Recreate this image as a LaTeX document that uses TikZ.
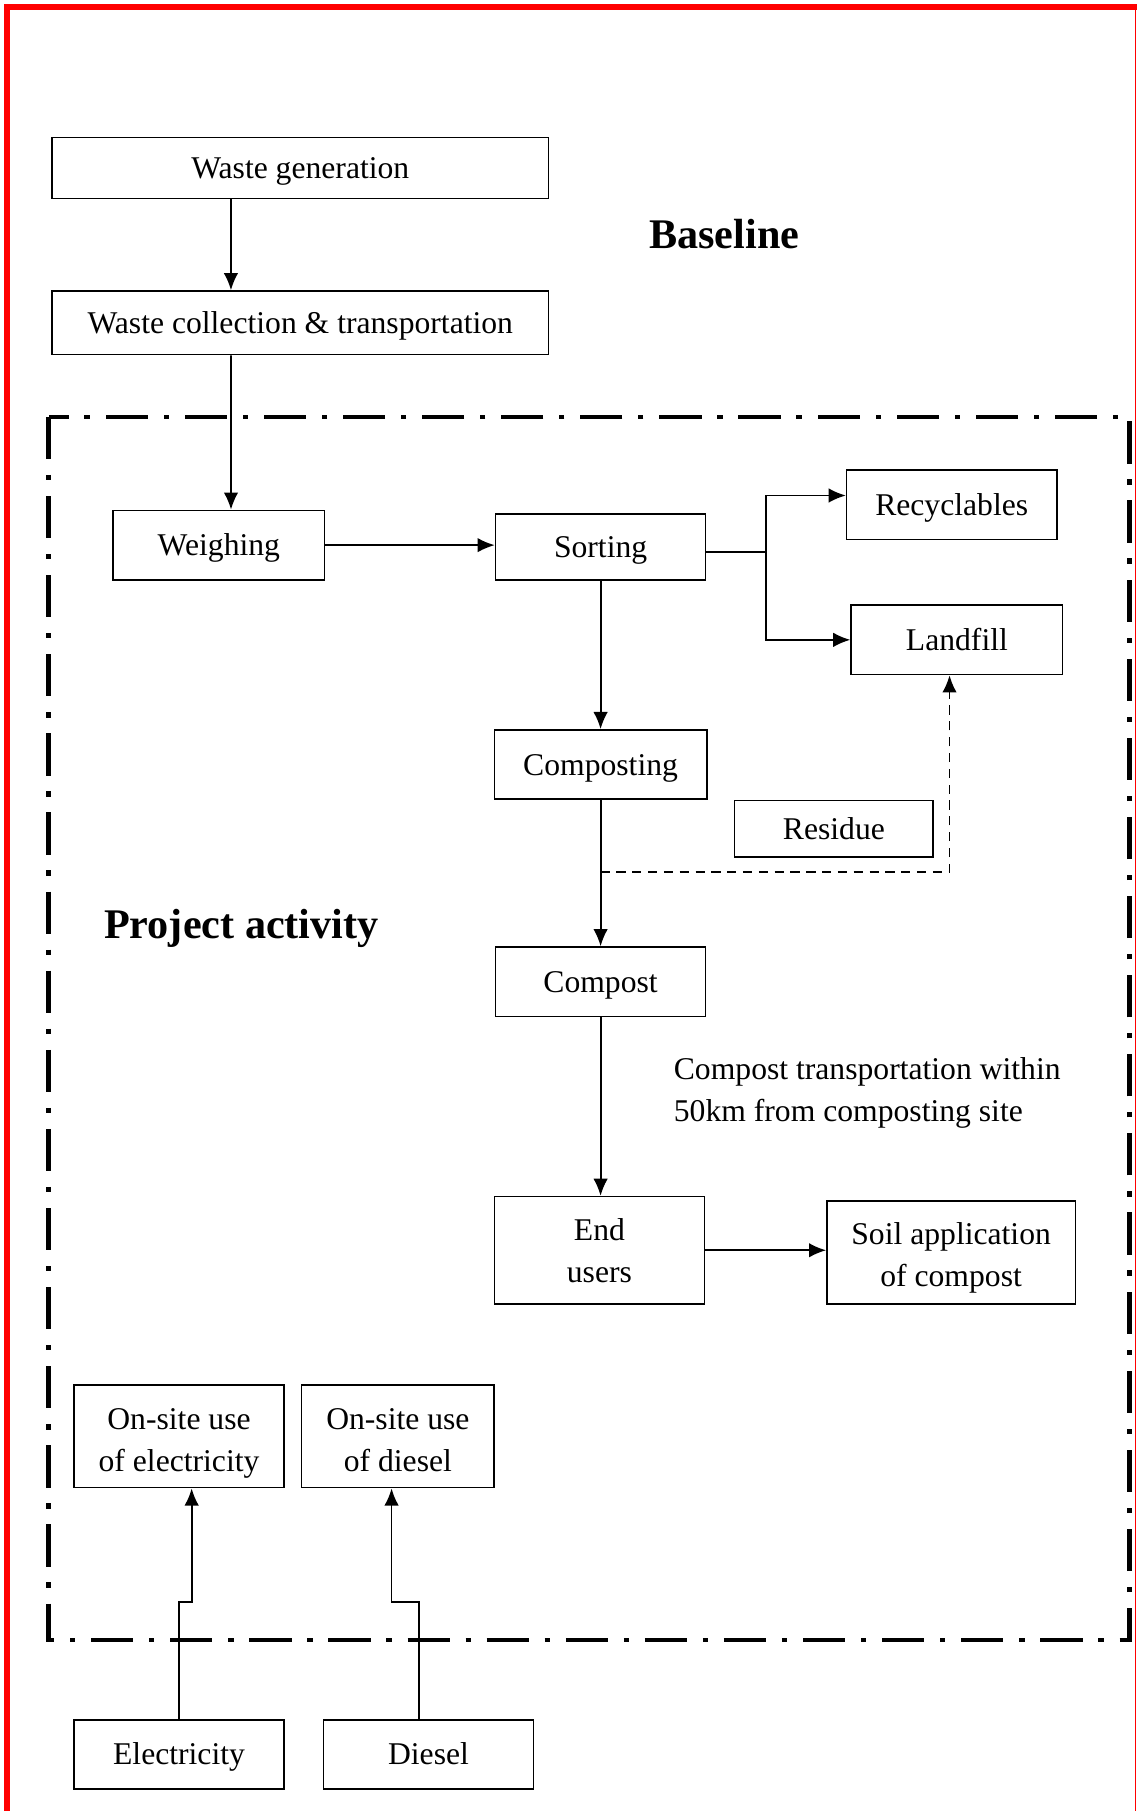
\documentclass[tikz,border=0pt]{standalone}
\usepackage{fontspec}
\setmainfont{Liberation Serif}
\usetikzlibrary{arrows.meta}

\begin{document}
\begin{tikzpicture}[x=0.438pt,y=-0.438pt,>={Latex[length=6.5pt,width=5.5pt]},
    font=\fontsize{12}{16}\selectfont,
    box/.style={draw,line width=0.6pt,align=center,inner sep=0pt},
    one/.style={box,text height=8pt,text depth=0pt},
    flow/.style={->,line width=0.7pt},
    title/.style={font=\fontsize{16}{19}\selectfont\bfseries}]
  \useasboundingbox (0,0) rectangle (984,1568);

  % Frame
  \draw[red,line width=2.3pt] (6,1568) -- (6,6) -- (984,6);
  \draw[red,line width=0.5pt] (983,6) -- (983,1568);

  % Baseline
  \node[one,minimum width=188.3pt,minimum height=23.2pt] (gen) at (260,145.5) {Waste generation};
  \node[one,minimum width=188.3pt,minimum height=24.1pt] (coll) at (260,279.5) {Waste collection \& transportation};
  \node[title] (base) at (627,203) {Baseline};

  % Project activity boundary
  \draw[line width=1.8pt,dash pattern=on 16pt off 6pt on 2pt off 6pt] (42,361) rectangle (978,1420);
  \node[title] (proj) at (209,804) {Project activity};

  % Main line
  \node[one,minimum width=80.2pt,minimum height=26.3pt] (weigh) at (189.5,472) {Weighing};
  \node[one,minimum width=79.7pt,minimum height=25pt] (sort) at (520,473.5) {Sorting};
  \node[one,minimum width=79.7pt,minimum height=26.3pt] (recyc) at (824,437) {Recyclables};
  \node[one,minimum width=80.2pt,minimum height=26.3pt] (land) at (828.5,554) {Landfill};
  \node[one,minimum width=80.6pt,minimum height=26.3pt] (compo) at (520,662) {Composting};
  \node[one,minimum width=75.3pt,minimum height=21.5pt] (resid) at (722,717.5) {Residue};
  \node[one,minimum width=79.7pt,minimum height=26.3pt] (compost) at (520,850) {Compost};
  \node[box,minimum width=79.7pt,minimum height=40.7pt] (users) at (519,1082.5) {End\\users};
  \node[box,minimum width=94.2pt,minimum height=39pt] (soil) at (823.5,1084.5) {\rule{0pt}{12.6pt}Soil application\\of compost};
  \node[anchor=west,align=left,inner sep=0pt] (note) at (583,946) {Compost transportation within\\50km from composting site};

  % Energy
  \node[box,minimum width=79.7pt,minimum height=39pt] (onelec) at (155,1243.5) {\rule{0pt}{13.4pt}On-site use\\of electricity};
  \node[box,minimum width=73.1pt,minimum height=39pt] (ondies) at (344.5,1243.5) {\rule{0pt}{13.4pt}On-site use\\of diesel\vphantom{y}};
  \node[one,minimum width=79.7pt,minimum height=26.3pt] (elec) at (155,1519) {Electricity};
  \node[one,minimum width=79.7pt,minimum height=26.3pt] (dies) at (371,1519) {Diesel};

  % Edges
  \coordinate (split) at (663,478);
  \coordinate (resjoin) at (520,755);
  \draw[flow] ([xshift=-26.3pt]gen.south) -- ([xshift=-26.3pt]coll.north);
  \draw[flow] ([xshift=-26.3pt]coll.south) -- ([xshift=4.6pt]weigh.north);
  \draw[flow] (weigh.east) -- (weigh.east -| sort.west);
  \draw[line width=0.7pt] (sort.east |- split) -- (split);
  \draw[flow] (split) |- ([yshift=3.5pt]recyc.west);
  \draw[flow] (split) |- (land.west);
  \draw[flow] (sort.south) -- (compo.north);
  \draw[flow] (compo.south) -- (compost.north);
  \draw[flow,dash pattern=on 3.5pt off 2.5pt] (resjoin) -| ([xshift=-2.8pt]land.south);
  \draw[flow] (compost.south) -- (compost.south |- users.north);
  \draw[flow] (users.east) -- (users.east -| soil.west);
  \draw[flow] (elec.north) -- ++(0,-101) -| ([xshift=4.8pt]onelec.south);
  \draw[flow] ([xshift=-3.5pt]dies.north) -- ++(0,-101) -| ([xshift=-2.4pt]ondies.south);
\end{tikzpicture}
\end{document}
